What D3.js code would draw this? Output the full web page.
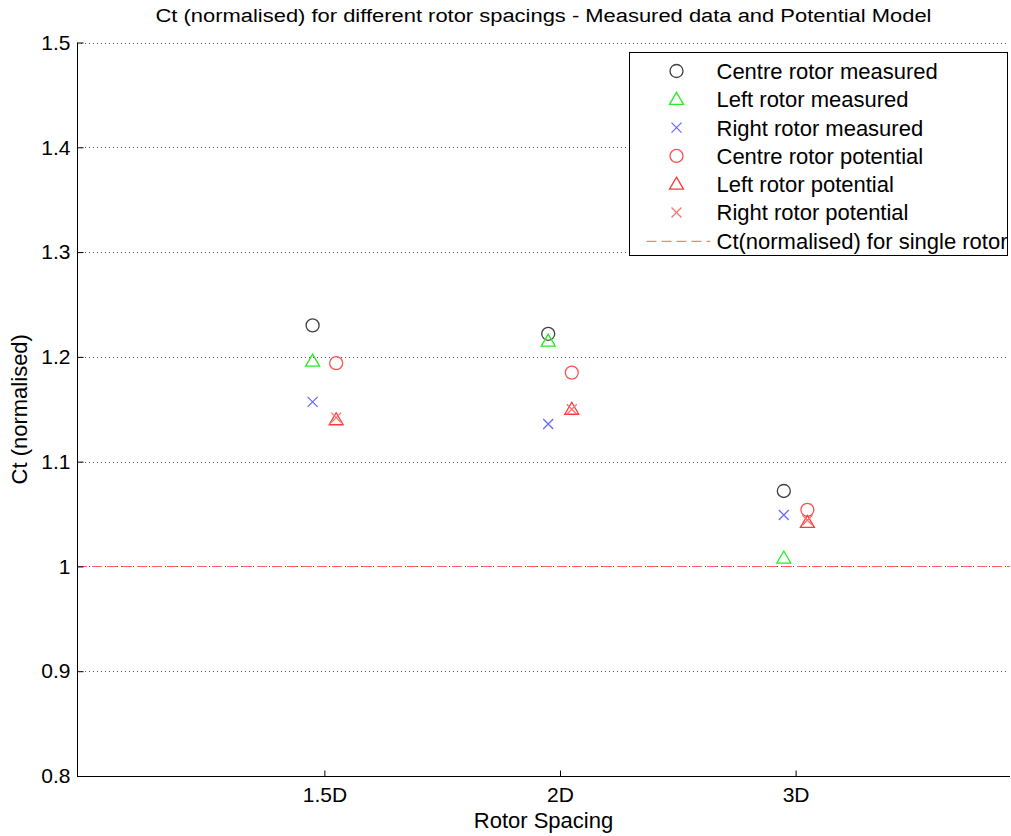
<!DOCTYPE html>
<html>
<head>
<meta charset="utf-8">
<script src="https://cdn.jsdelivr.net/npm/d3@7"></script>
<style>
  body { margin: 0; background: #fff; }
  text { font-family: "Liberation Sans", Arial, sans-serif; fill: #000; }
</style>
</head>
<body>
<svg id="canvas" width="1011" height="836"></svg>
<script>
// data
var spacings = ["1.5D", "2D", "3D"];
var centre_measured = [1.230, 1.222, 1.072];
var left_measured = [1.196, 1.215, 1.008];
var right_measured = [1.157, 1.136, 1.049];
var centre_potential = [1.194, 1.185, 1.054];
var left_potential = [1.140, 1.150, 1.042];
var right_potential = [1.142, 1.150, 1.044];
var single_rotor = 1.0;
var y_ticks = [0.8, 0.9, 1, 1.1, 1.2, 1.3, 1.4, 1.5];

var series = [
  { name: "Centre rotor measured", values: centre_measured, shape: "circle", color: "#404040", offset: -0.05 },
  { name: "Left rotor measured", values: left_measured, shape: "triangle", color: "#22ee22", offset: -0.05 },
  { name: "Right rotor measured", values: right_measured, shape: "cross", color: "#6a6aff", offset: -0.05 },
  { name: "Centre rotor potential", values: centre_potential, shape: "circle", color: "#ff5050", offset: 0.05 },
  { name: "Left rotor potential", values: left_potential, shape: "triangle", color: "#ff3838", offset: 0.05 },
  { name: "Right rotor potential", values: right_potential, shape: "cross", color: "#ff7070", offset: 0.05 }
];

d3.selection.prototype.attrs = function(o) { for (var k in o) this.attr(k, o[k]); return this; };

// ************************************************************************************** //
// Layout

var svg = d3.select('#canvas');
var plot_left = 77, plot_right = 1010, plot_top = 42.5, plot_bottom = 776;

var xScale = d3.scaleLinear().domain([-0.05, 3.91]).range([plot_left, plot_right]);
var yScale = d3.scaleLinear().domain([0.8, 1.5]).range([plot_bottom, plot_top]);

// grid
svg.append('g').selectAll('line').data(y_ticks.filter(d => d != 0.8)).enter().append('line')
  .attr('x1', plot_left).attr('x2', plot_right - 4)
  .attr('y1', d => Math.round(yScale(d)) + 0.5).attr('y2', d => Math.round(yScale(d)) + 0.5)
  .attr('stroke', '#555').attr('stroke-width', 1).attr('stroke-dasharray', '1,3');

// single rotor line
svg.append('line')
  .attr('x1', plot_left).attr('x2', plot_right)
  .attr('y1', Math.round(yScale(single_rotor)) + 0.5).attr('y2', Math.round(yScale(single_rotor)) + 0.5)
  .attr('stroke', '#ff6060').attr('stroke-width', 1).attr('stroke-dasharray', '10,5');

// axes
var yAxis = svg.append('g').attr('transform', 'translate(' + (plot_left + 0.5) + ',0)')
  .call(d3.axisRight(yScale).tickValues(y_ticks).tickSize(6).tickFormat(d3.format('')));
yAxis.selectAll('text').attr('x', -7).attr('text-anchor', 'end').style('font-size', '21px');
yAxis.select('.domain').attr('d', 'M0,' + plot_top + 'V' + (plot_bottom + 0.5));

var xAxis = svg.append('g').attr('transform', 'translate(0,' + (plot_bottom + 0.5) + ')')
  .call(d3.axisTop(xScale).tickValues([1, 2, 3]).tickSize(6).tickFormat((d, i) => spacings[i]));
xAxis.selectAll('text').attr('y', 25.5).attr('dy', 0).style('font-size', '21px');
xAxis.select('.domain').attr('d', 'M' + plot_left + ',0H' + plot_right);
svg.selectAll('.domain, .tick line').attr('stroke', '#000');

// labels
svg.append('text').attr('x', (plot_left + plot_right) / 2).attr('y', 22).attr('text-anchor', 'middle')
  .style('font-size', '18px').attr('textLength', 776).attr('lengthAdjust', 'spacingAndGlyphs')
  .text('Ct (normalised) for different rotor spacings - Measured data and Potential Model');
svg.append('text').attr('x', (plot_left + plot_right) / 2).attr('y', 828).attr('text-anchor', 'middle')
  .style('font-size', '22px').text('Rotor Spacing');
svg.append('text').attr('transform', 'translate(27,' + ((plot_top + plot_bottom) / 2) + ') rotate(-90)')
  .attr('text-anchor', 'middle').style('font-size', '22px').text('Ct (normalised)');

// markers
function drawMarker(g, shape, color) {
  if (shape == 'circle')
    g.append('circle').attrs({ r: 6.5, fill: 'none', stroke: color, 'stroke-width': 1.3 });
  else if (shape == 'triangle')
    g.append('path').attrs({ d: 'M0,-7L7,5L-7,5Z', fill: 'none', stroke: color, 'stroke-width': 1.3 });
  else
    g.append('path').attrs({ d: 'M-5,-5L5,5M-5,5L5,-5', fill: 'none', stroke: color, 'stroke-width': 1.3 });
}

series.forEach(function(s) {
  s.values.forEach(function(v, i) {
    var g = svg.append('g').attr('transform', 'translate(' + xScale(i + 1 + s.offset) + ',' + yScale(v) + ')');
    drawMarker(g, s.shape, s.color);
  });
});

// legend
var legend = svg.append('g').attr('transform', 'translate(629.5,52.5)');
legend.append('rect').attrs({ width: 378, height: 203, fill: '#fff', stroke: '#000', 'stroke-width': 1 });
series.forEach(function(s, i) {
  var row = legend.append('g').attr('transform', 'translate(0,' + (18.5 + i * 28.3) + ')');
  drawMarker(row.append('g').attr('transform', 'translate(47,0)'), s.shape, s.color);
  row.append('text').attrs({ x: 87, y: 0, dy: '0.36em' }).style('font-size', '22px').text(s.name);
});
var last = legend.append('g').attr('transform', 'translate(0,' + (18.5 + 6 * 28.3) + ')');
last.append('line').attrs({ x1: 17, x2: 81, y1: 0.5, y2: 0.5, stroke: '#ff6060', 'stroke-dasharray': '10,5' });
last.append('text').attrs({ x: 87, y: 0, dy: '0.36em' }).style('font-size', '22px').text('Ct(normalised) for single rotor');
</script>
</body>
</html>
